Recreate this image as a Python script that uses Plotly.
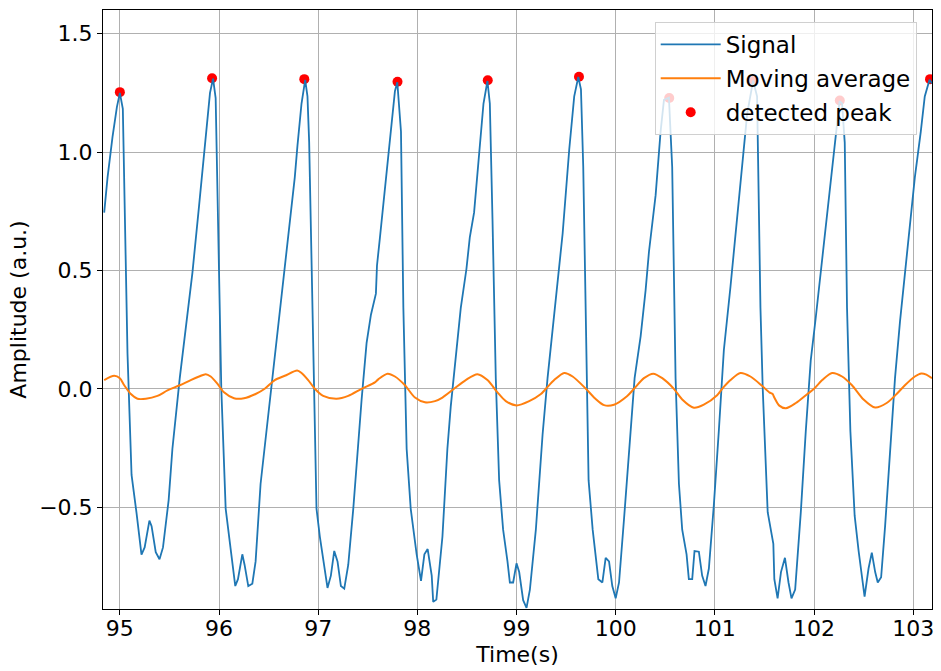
import plotly.graph_objects as go

# ---- data ----
signal_t = [94.842, 94.876, 94.926, 94.970, 95.000, 95.030, 95.077, 95.118, 95.168, 95.218, 95.250,
            95.298, 95.320, 95.362, 95.400, 95.435, 95.492, 95.530, 95.604, 95.698, 95.732, 95.799,
            95.849, 95.909, 95.940, 95.966, 96.023, 96.067, 96.124, 96.164, 96.191, 96.235, 96.258,
            96.295, 96.336, 96.369, 96.419, 96.487, 96.556, 96.596, 96.663, 96.714, 96.764, 96.791,
            96.832, 96.869, 96.892, 96.909, 96.949, 96.983, 97.017, 97.061, 97.094, 97.128, 97.162,
            97.195, 97.229, 97.263, 97.303, 97.354, 97.397, 97.438, 97.488, 97.532, 97.582, 97.593,
            97.623, 97.667, 97.707, 97.751, 97.774, 97.798, 97.835, 97.859, 97.892, 97.933, 97.993,
            98.037, 98.071, 98.104, 98.145, 98.160, 98.192, 98.253, 98.303, 98.337, 98.387, 98.438,
            98.495, 98.529, 98.572, 98.623, 98.667, 98.707, 98.731, 98.758, 98.791, 98.825, 98.865,
            98.909, 98.933, 98.966, 99.000, 99.027, 99.067, 99.101, 99.135, 99.195, 99.263, 99.313,
            99.370, 99.414, 99.465, 99.532, 99.582, 99.623, 99.650, 99.673, 99.700, 99.727, 99.768,
            99.825, 99.866, 99.899, 99.933, 99.966, 100.000, 100.034, 100.084, 100.134, 100.191,
            100.252, 100.302, 100.336, 100.403, 100.453, 100.487, 100.537, 100.570, 100.604, 100.638,
            100.671, 100.715, 100.738, 100.772, 100.795, 100.839, 100.872, 100.906, 100.940, 100.990,
            101.040, 101.091, 101.158, 101.208, 101.258, 101.326, 101.386, 101.426, 101.460, 101.483,
            101.533, 101.590, 101.600, 101.633, 101.667, 101.707, 101.743, 101.773, 101.810, 101.867,
            101.917, 101.967, 102.017, 102.067, 102.117, 102.167, 102.210, 102.258, 102.283, 102.310,
            102.333, 102.367, 102.410, 102.450, 102.510, 102.550, 102.583, 102.617, 102.643, 102.677,
            102.717, 102.767, 102.817, 102.867, 102.917, 102.967, 103.017, 103.077, 103.117, 103.165,
            103.190]
signal_v = [0.744, 0.893, 1.064, 1.190, 1.250, 1.183, 0.150, -0.364, -0.524, -0.700, -0.670,
            -0.557, -0.580, -0.690, -0.720, -0.670, -0.470, -0.253, 0.045, 0.357, 0.491, 0.774,
            0.997, 1.250, 1.310, 1.228, 0.000, -0.506, -0.699, -0.833, -0.804, -0.699, -0.744,
            -0.833, -0.823, -0.729, -0.402, -0.149, 0.119, 0.283, 0.506, 0.714, 0.893, 1.027,
            1.205, 1.305, 1.235, 1.042, 0.193, -0.506, -0.625, -0.759, -0.841, -0.789, -0.685,
            -0.729, -0.833, -0.844, -0.744, -0.506, -0.253, -0.045, 0.193, 0.313, 0.402, 0.521,
            0.640, 0.818, 0.967, 1.161, 1.257, 1.295, 1.086, 0.342, -0.253, -0.506, -0.699,
            -0.811, -0.699, -0.677, -0.789, -0.900, -0.890, -0.625, -0.253, -0.074, 0.119, 0.342,
            0.506, 0.640, 0.744, 1.012, 1.205, 1.300, 1.205, 0.714, 0.045, -0.387, -0.595,
            -0.729, -0.818, -0.818, -0.737, -0.774, -0.893, -0.925, -0.848, -0.595, -0.193, 0.045,
            0.268, 0.446, 0.655, 1.012, 1.235, 1.317, 1.265, 0.938, 0.193, -0.387, -0.595,
            -0.804, -0.818, -0.714, -0.729, -0.833, -0.885, -0.818, -0.551, -0.253, 0.045,
            0.223, 0.417, 0.580, 0.818, 1.086, 1.220, 1.230, 0.937, 0.045, -0.402,
            -0.595, -0.699, -0.804, -0.804, -0.685, -0.688, -0.789, -0.833, -0.759, -0.491,
            -0.179, 0.164, 0.432, 0.640, 0.863, 1.161, 1.302, 1.235, 0.342, 0.000,
            -0.521, -0.655, -0.804, -0.885, -0.774, -0.714, -0.818, -0.885, -0.848, -0.521,
            -0.179, 0.119, 0.298, 0.491, 0.685, 0.893, 1.057, 1.215, 1.205, 1.040,
            0.342, -0.179, -0.536, -0.685, -0.878, -0.759, -0.692, -0.774, -0.818, -0.796,
            -0.580, -0.253, 0.045, 0.283, 0.491, 0.714, 0.893, 1.086, 1.235, 1.305,
            1.290]

ma_t = [94.842, 94.943, 95.000, 95.044, 95.111, 95.178, 95.262, 95.379, 95.480, 95.604, 95.715,
        95.799, 95.866, 95.916, 95.983, 96.050, 96.151, 96.252, 96.369, 96.461, 96.562, 96.663,
        96.788, 96.832, 96.899, 96.966, 97.050, 97.185, 97.303, 97.438, 97.572, 97.606, 97.700,
        97.774, 97.875, 97.976, 98.077, 98.178, 98.253, 98.370, 98.488, 98.606, 98.707, 98.808,
        98.892, 99.000, 99.128, 99.246, 99.296, 99.380, 99.481, 99.566, 99.700, 99.790, 99.883,
        99.983, 100.117, 100.185, 100.285, 100.379, 100.470, 100.587, 100.671, 100.789, 100.889,
        101.023, 101.074, 101.158, 101.258, 101.359, 101.470, 101.550, 101.583, 101.600, 101.650,
        101.717, 101.817, 101.933, 102.000, 102.083, 102.183, 102.283, 102.383, 102.500, 102.617,
        102.733, 102.833, 102.917, 103.017, 103.083, 103.133, 103.190]
ma_v = [0.037, 0.055, 0.045, 0.015, -0.022, -0.042, -0.042, -0.030, -0.007, 0.015, 0.037,
        0.052, 0.062, 0.052, 0.022, -0.015, -0.040, -0.040, -0.022, 0.000, 0.037, 0.055,
        0.077, 0.067, 0.037, 0.000, -0.030, -0.042, -0.030, 0.000, 0.027, 0.040, 0.064,
        0.052, 0.015, -0.037, -0.057, -0.052, -0.037, 0.000, 0.037, 0.062, 0.037, -0.015,
        -0.052, -0.070, -0.052, -0.022, 0.000, 0.037, 0.067, 0.052, 0.000, -0.040, -0.069,
        -0.067, -0.030, 0.000, 0.045, 0.064, 0.045, 0.000, -0.045, -0.080, -0.067,
        -0.027, 0.000, 0.037, 0.067, 0.052, 0.015, -0.015, -0.022, -0.037, -0.071,
        -0.082, -0.060, -0.022, 0.000, 0.037, 0.067, 0.052, 0.015, -0.045, -0.079,
        -0.060, -0.022, 0.015, 0.052, 0.065, 0.060, 0.045]

peak_t = [95.00, 95.93, 96.86, 97.80, 98.71, 99.63, 100.54, 101.38, 102.26, 103.17]
peak_v = [1.253, 1.312, 1.308, 1.297, 1.303, 1.318, 1.228, 1.300, 1.218, 1.308]

x_ticks = [95, 96, 97, 98, 99, 100, 101, 102, 103]
y_ticks = [-0.5, 0.0, 0.5, 1.0, 1.5]

FONT = "DejaVu Sans"
FS = 22

fig = go.Figure()
fig.add_trace(go.Scatter(x=peak_t, y=peak_v, mode="markers", name="detected peak",
                         marker=dict(color="red", size=10, line=dict(width=0)),
                         legendrank=3, legendgroup="c"))
fig.add_trace(go.Scatter(x=signal_t, y=signal_v, mode="lines", name="Signal",
                         line=dict(color="#1f77b4", width=1.8),
                         legendrank=1, legendgroup="a"))
fig.add_trace(go.Scatter(x=ma_t, y=ma_v, mode="lines", name="Moving average",
                         line=dict(color="#ff7f0e", width=2, shape="spline", smoothing=0.8),
                         legendrank=2, legendgroup="b"))

axis_common = dict(showline=True, linecolor="black", linewidth=1, mirror=True,
                   showgrid=True, gridcolor="#b0b0b0", gridwidth=1,
                   ticks="outside", ticklen=5, tickcolor="black",
                   zeroline=False, tickfont=dict(family=FONT, size=FS, color="black"))

fig.update_layout(
    width=941, height=671,
    margin=dict(l=103, r=7, t=10, b=62),
    paper_bgcolor="white", plot_bgcolor="white",
    font=dict(family=FONT, size=FS, color="black"),
    showlegend=True,
    legend=dict(x=0.6655, y=0.98, xanchor="left", yanchor="top",
                bgcolor="rgba(255,255,255,0.8)", bordercolor="#d0d0d0", borderwidth=1,
                font=dict(family=FONT, size=23, color="black"),
                itemwidth=60,
                traceorder="grouped", tracegroupgap=1),
)
fig.update_xaxes(range=[94.83, 103.19], tickvals=x_ticks, ticklabelstandoff=-5,
                 title=dict(text="Time(s)", font=dict(family=FONT, size=FS), standoff=6),
                 **axis_common)
fig.update_yaxes(range=[-0.93, 1.60], tickvals=y_ticks, tickformat=".1f",
                 title=dict(text="Amplitude (a.u.)", font=dict(family=FONT, size=FS), standoff=6),
                 **axis_common)

fig.write_html("out.html", config={"displayModeBar": False},
               post_script="document.body.style.margin='0';document.body.style.overflow='hidden';")
